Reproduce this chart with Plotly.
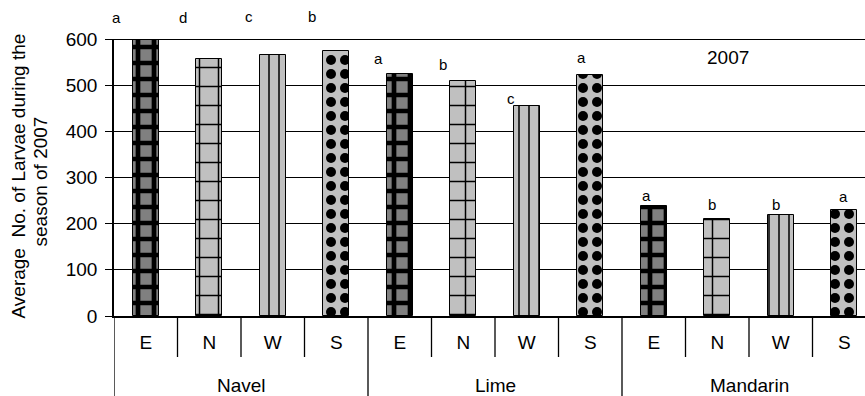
import plotly.graph_objects as go

# ---------------- data ----------------
groups = ["Navel", "Lime", "Mandarin"]
directions = ["E", "N", "W", "S"]
navel = [603, 557, 565, 573]
lime = [525, 510, 455, 521]
mandarin = [239, 210, 219, 230]
navel_letters = ["a", "d", "c", "b"]
lime_letters = ["a", "b", "c", "a"]
mandarin_letters = ["a", "b", "b", "a"]
y_ticks = [0, 100, 200, 300, 400, 500, 600]
year_label = "2007"
y_title_1 = "Average\u00a0\u00a0No. of Larvae during the"
y_title_2 = "season of 2007"

values_by_group = [navel, lime, mandarin]
letters_by_group = [navel_letters, lime_letters, mandarin_letters]

# ---------------- styles ----------------
FONT = "Arial, Liberation Sans, sans-serif"
LIGHT = "#c0c0c0"
DARK = "#808080"
patterns = {
    "E": dict(shape="+", fgcolor="black", bgcolor=DARK, size=16, solidity=0.5, fillmode="replace"),
    "N": dict(shape="+", fgcolor="black", bgcolor=LIGHT, size=19, solidity=0.15, fillmode="replace"),
    "W": dict(shape="|", fgcolor="black", bgcolor=LIGHT, size=10, solidity=0.15, fillmode="replace"),
    "S": dict(shape=".", fgcolor="black", bgcolor=LIGHT, size=14, solidity=0.4, fillmode="replace"),
}
# pixel offsets of significance letters relative to the top of each bar
letter_dx = [-29, -26, -24, -24, -21, -20, -16, -9, -7, -5, -5, -1]
letter_dy = [20.6, 41.8, 38.2, 34.5, 15.6, 16.5, 7.9, 17.5, 9.7, 15, 10.9, 13.8]

W, H = 865, 396
ML, MR, MT, MB = 114, 0, 39, 80
plot_h = H - MT - MB
y_max = y_ticks[-1]
px_per_unit = plot_h / (y_max - y_ticks[0])

n_dir = len(directions)
n_cat = len(groups) * n_dir

fig = go.Figure()
for d, dname in enumerate(directions):
    xs = [g * n_dir + d for g in range(len(groups))]
    ys = [values_by_group[g][d] for g in range(len(groups))]
    fig.add_trace(go.Bar(
        x=xs, y=ys, name=dname, width=0.41,
        marker=dict(color=patterns[dname]["bgcolor"], pattern=patterns[dname],
                    line=dict(color="black", width=1)),
        cliponaxis=False, showlegend=False, hoverinfo="skip",
    ))

annotations = []
# significance letters
for g in range(len(groups)):
    for d in range(n_dir):
        i = g * n_dir + d
        v = values_by_group[g][d]
        anchor = min(v, y_max)
        annotations.append(dict(
            x=i, y=anchor, xref="x", yref="y",
            text=letters_by_group[g][d], showarrow=False,
            xanchor="center", yanchor="middle",
            xshift=letter_dx[i], yshift=letter_dy[i] + (v - anchor) * px_per_unit,
            font=dict(family=FONT, size=15, color="black"),
        ))
# group labels
for g, gname in enumerate(groups):
    annotations.append(dict(
        x=g * n_dir + (n_dir - 1) / 2, y=0, xref="x", yref="paper",
        text=gname, showarrow=False, xanchor="center", yanchor="middle",
        yshift=-69, font=dict(family=FONT, size=19, color="black"),
    ))
# year label
annotations.append(dict(
    x=0.8176, y=0.935, xref="paper", yref="paper", text=year_label,
    showarrow=False, xanchor="center", yanchor="middle",
    font=dict(family=FONT, size=19, color="black"),
))
# y-axis title (two lines)
annotations.append(dict(
    x=0, y=0.5, xref="paper", yref="paper", text=y_title_1, textangle=-90,
    showarrow=False, xanchor="center", yanchor="middle", xshift=-96, yshift=1,
    font=dict(family=FONT, size=19, color="black"),
))
annotations.append(dict(
    x=0, y=0.5, xref="paper", yref="paper", text=y_title_2, textangle=-90,
    showarrow=False, xanchor="center", yanchor="middle", xshift=-74, yshift=-4,
    font=dict(family=FONT, size=19, color="black"),
))

shapes = []
short_len = 41 / plot_h
long_len = 80 / plot_h
for b in range(n_cat + 1):
    xb = b - 0.5
    is_group = (b % n_dir == 0)
    shapes.append(dict(
        type="line", xref="x", yref="paper", x0=xb, x1=xb,
        y0=0, y1=-(long_len if is_group else short_len),
        line=dict(color="black", width=1.3),
    ))
# thicker top border line
shapes.append(dict(type="line", xref="paper", yref="y", x0=0, x1=1,
                   y0=y_max, y1=y_max, line=dict(color="black", width=2)))

plot_w = W - ML - MR
slot_px = 63.5
x_hi = -0.5 + plot_w / slot_px

fig.update_layout(
    width=W, height=H,
    margin=dict(l=ML, r=MR, t=MT, b=MB, pad=0, autoexpand=False),
    paper_bgcolor="white", plot_bgcolor="white",
    barmode="group", bargap=0,
    font=dict(family=FONT, size=19, color="black"),
    annotations=annotations, shapes=shapes,
    xaxis=dict(
        range=[-0.5, x_hi], tickmode="array", automargin=False,
        tickvals=list(range(n_cat)), ticktext=directions * len(groups),
        ticks="", showgrid=False, zeroline=False,
        showline=True, linecolor="black", linewidth=1.5,
        tickfont=dict(family=FONT, size=19, color="black"),
        ticklabelstandoff=8,
    ),
    yaxis=dict(
        range=[0, y_max], tickmode="array", tickvals=y_ticks, automargin=False,
        ticks="outside", ticklen=7, tickwidth=1.3, tickcolor="black",
        showline=True, linecolor="black", linewidth=1.5,
        showgrid=True, gridcolor="black", gridwidth=1,
        zeroline=False,
        tickfont=dict(family=FONT, size=19, color="black"),
        ticklabelstandoff=4,
    ),
)

fig.write_html("out.html", config={"displayModeBar": False},
               post_script="document.body.style.margin='0';")
